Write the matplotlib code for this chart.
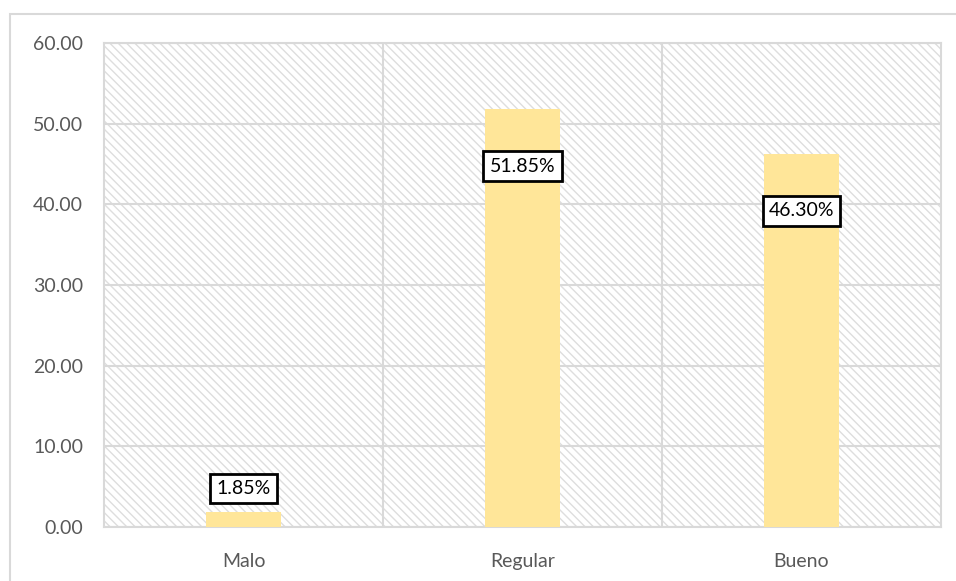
import matplotlib.pyplot as plt
import matplotlib.patches as mpatches
import numpy as np

# Data
categories = ['Malo', 'Regular', 'Bueno']
values = [1.85, 51.85, 46.30]
labels = ['1.85%', '51.85%', '46.30%']

plt.rcParams['font.family'] = ['Lato', 'DejaVu Sans']
plt.rcParams['hatch.linewidth'] = 1.0
plt.rcParams['hatch.color'] = '#dedede'

fig = plt.figure(figsize=(9.56, 5.81), dpi=100)
ax = fig.add_axes([104/956, 54/581, 837/956, 484/581])

# outer chart border
fig.patches.append(mpatches.Rectangle((10/956, -0.1), 1.2, (581-14)/581 + 0.1,
                                      transform=fig.transFigure, fill=False,
                                      edgecolor='#d9d9d9', linewidth=1.5, zorder=0))

# hatched plot background
ax.add_patch(mpatches.Rectangle((0, 0), 1, 1, transform=ax.transAxes,
                                facecolor='white', edgecolor='#dedede',
                                hatch='\\\\\\\\', linewidth=0, zorder=0))

ind = np.arange(len(categories))
ax.bar(ind, values, width=0.27, color='#FFE699', zorder=3)

for i, (v, lab) in enumerate(zip(values, labels)):
    y = v + 2.9 if v < 10 else v - 7.1
    ax.text(i, y, lab, ha='center', va='center', fontsize=14, color='black', zorder=5,
            bbox=dict(boxstyle='square,pad=0.32', facecolor='white', edgecolor='black', linewidth=2))

ax.set_xlim(-0.5, 2.5)
ax.set_ylim(0, 60)
ax.set_yticks(np.arange(0, 61, 10))
ax.set_yticklabels([f'{t:.2f}' for t in np.arange(0, 61, 10)])
ax.set_xticks(ind)
ax.set_xticklabels(categories)
ax.set_xticks([0.5, 1.5], minor=True)

ax.grid(axis='y', which='major', color='#d9d9d9', linewidth=1.5, zorder=1)
ax.grid(axis='x', which='minor', color='#d9d9d9', linewidth=1.5, zorder=1)
ax.set_axisbelow(True)

for s in ax.spines.values():
    s.set_color('#d9d9d9')
    s.set_linewidth(1.5)

ax.tick_params(axis='both', which='both', length=0, labelsize=14, colors='#595959')
ax.tick_params(axis='y', pad=15)
ax.tick_params(axis='x', pad=19)

fig.savefig('out.png', dpi=100)
